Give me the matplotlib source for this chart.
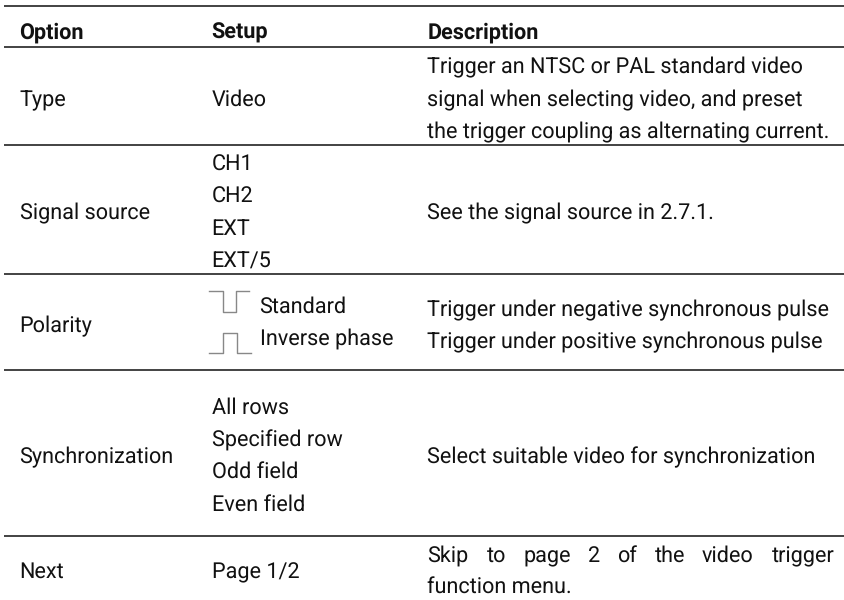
import matplotlib
matplotlib.use("Agg")
import matplotlib.pyplot as plt

W, H = 844, 600
columns = ["Option", "Setup", "Description"]
rule_rows = [6, 47, 145, 274, 370, 536]
option_labels = ["Type", "Signal source", "Polarity", "Synchronization", "Next"]
setup_lines = [["Video"], ["CH1", "CH2", "EXT", "EXT/5"], ["Standard", "Inverse phase"],
               ["All rows", "Specified row", "Odd field", "Even field"], ["Page 1/2"]]
desc_lines = [["Trigger an NTSC or PAL standard video", "signal when selecting video, and preset",
               "the trigger coupling as alternating current."],
              ["See the signal source in 2.7.1."],
              ["Trigger under negative synchronous pulse", "Trigger under positive synchronous pulse"],
              ["Select suitable video for synchronization"],
              ["Skip to page 2 of the video trigger", "function menu."]]

plt.rcParams["font.family"] = ["Roboto", "DejaVu Sans"]
plt.rcParams["text.hinting"] = "no_hinting"
fig = plt.figure(figsize=(W / 100, H / 100), dpi=100)
ax = fig.add_axes([0, 0, 1, 1])
ax.set_xlim(0, W); ax.set_ylim(H, 0); ax.axis("off")
FS = 15.55
INK = "#111111"

for y in rule_rows:
    ax.plot([4, 844], [y, y], color="#222222", lw=1.2, solid_capstyle="butt")

for x, c in zip([19.5, 211.5, 427.5], columns):
    ax.text(x, 39, c, fontsize=FS, fontweight="bold", color=INK, va="baseline")

option_y = [106, 219, 332, 463, 578]
for y, t in zip(option_y, option_labels):
    ax.text(19.5, y, t, fontsize=FS, color=INK, va="baseline")

setup_y = [[106], [171, 203, 235, 267], [313, 345], [414, 447, 478, 511], [578]]
setup_x = [[211.5], [211.5] * 4, [259.5, 259.5], [211.5] * 4, [211.5]]
for ys, xs, ls in zip(setup_y, setup_x, setup_lines):
    for y, x, t in zip(ys, xs, ls):
        ax.text(x, y, t, fontsize=FS, color=INK, va="baseline")

desc_y = [[73, 106, 138], [219], [316, 348], [463], [562, 593]]
for ys, ls in zip(desc_y, desc_lines):
    for y, t in zip(ys, ls):
        if t.startswith("Skip"):
            for wx, w in zip([427, 487, 524, 588, 617, 655, 702, 772], t.split()):
                ax.text(wx, y, w, fontsize=FS, color=INK, va="baseline")
        else:
            ax.text(427, y, t, fontsize=FS, color=INK, va="baseline")

ax.plot([209, 223, 223, 236, 236, 249], [291, 291, 312, 312, 291, 291], color="#888888", lw=1.0)
ax.plot([209, 223, 223, 237, 237, 251], [353, 353, 333, 333, 353, 353], color="#888888", lw=1.0)

fig.savefig("out.png", dpi=100)
